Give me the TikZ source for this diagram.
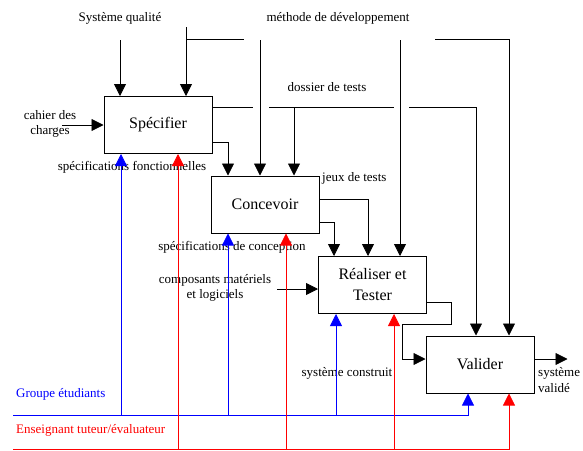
\documentclass[tikz,border=0pt]{standalone}
\usepackage{fontspec}
\setmainfont{Liberation Serif}
\usetikzlibrary{arrows.meta}
\tikzset{
box/.style={rectangle,draw,line width=1pt,minimum width=108pt,minimum height=57pt,align=center,font=\fontsize{16}{21}\selectfont},
lbl/.style={inner sep=0pt,align=center,font=\fontsize{13}{15.5}\selectfont},
arr/.style={line width=0.8pt,-{Triangle[length=12pt,width=12pt]}},
bus/.style={line width=0.8pt},
barr/.style={arr,blue},
rarr/.style={arr,red}
}
\begin{document}
\begin{tikzpicture}[x=1pt,y=-1pt]
\useasboundingbox (0,0) rectangle (583,450);
%\usetikzlibrary{arrows.meta}
\path (158,125) node(spec)[box]{Spécifier}
(265,204.5) node(conc)[box]{Concevoir}
(372.5,285) node(real)[box]{Réaliser et\\Tester}
(480,364.5) node(vali)[box]{Valider}
(120,18) node(qual)[lbl]{Système qualité}
(338,18) node(meth)[lbl]{méthode de développement}
(50,124) node(cahier)[lbl]{cahier des\\charges}
(327,87) node(dossier)[lbl]{dossier de tests}
(132,167) node(sfonc)[lbl]{spécifications fonctionnelles}
(322,178) node(jeux)[lbl,anchor=west]{jeux de tests}
(232,247) node(sconc)[lbl]{spécifications de conception}
(215,288) node(comp)[lbl]{composants matériels\\et logiciels}
(347,373) node(sconst)[lbl]{système construit}
(538,380) node(sval)[lbl,anchor=west,align=left]{système\\validé}
(16,394) node(groupe)[lbl,anchor=west,blue]{Groupe étudiants}
(16,430) node(ens)[lbl,anchor=west,red]{Enseignant tuteur/évaluateur};
% entree
\coordinate (k0) at (62,125);
\draw[arr](k0)--(k0 -| spec.west);
% controles
\coordinate (q0) at (120,40);
\coordinate (m0) at (186,27);
\coordinate (m1) at (244,39);
\coordinate (m2) at (260,40);
\coordinate (m3) at (400,40);
\coordinate (m4) at (435,39);
\coordinate (m5) at (509,39);
\draw[arr](q0)--(q0 |- spec.north);
\draw[arr](m0)--(m0 |- spec.north);
\draw[bus](m0 |- m1)--(m1);
\draw[arr](m2)--(m2 |- conc.north);
\draw[arr](m3)--(m3 |- real.north);
\draw[arr](m4)--(m5)--(m5 |- vali.north);
% dossier de tests
\coordinate (d1) at (253,107);
\coordinate (d2) at (269,107);
\coordinate (d3) at (394,107);
\coordinate (d4) at (409,107);
\coordinate (d5) at (476,107);
\coordinate (d6) at (294,107);
\draw[bus](spec.east |- d1)--(d1);
\draw[bus](d2)--(d3);
\draw[arr](d4)--(d5)--(d5 |- vali.north);
\draw[arr](d6)--(d6 |- conc.north);
% sorties
\draw[arr]([yshift=-17pt]spec.east)-|([xshift=-37pt]conc.north);
\draw[arr]([yshift=5.5pt]conc.east)-|([xshift=-4.5pt]real.north);
\draw[arr]([yshift=-17.5pt]conc.east)-|([xshift=-38.5pt]real.north);
\coordinate (c0) at (277,289);
\draw[arr](c0)--(c0 -| real.west);
\draw[arr]([yshift=-17pt]real.east)--++(24,0)--++(0,22)--++(-49,0)|-([yshift=5.5pt]vali.west);
\draw[arr]([yshift=5.5pt]vali.east)--++(33,0);
% mecanismes
\coordinate (b0) at (13,415);
\coordinate (r0) at (13,449);
\draw[barr](b0)-|([xshift=-12pt]vali.south);
\draw[rarr](r0)-|([xshift=29pt]vali.south);
\foreach \n/\s in {spec/-37,conc/-37,real/-36.5}{
\path ([xshift=\s pt]\n.south) coordinate (t);
\draw[barr](t |- b0)--(t);
}
\foreach \n/\s in {spec/20,conc/21,real/21.5}{
\path ([xshift=\s pt]\n.south) coordinate (t);
\draw[rarr](t |- r0)--(t);
}
\end{tikzpicture}
\end{document}
